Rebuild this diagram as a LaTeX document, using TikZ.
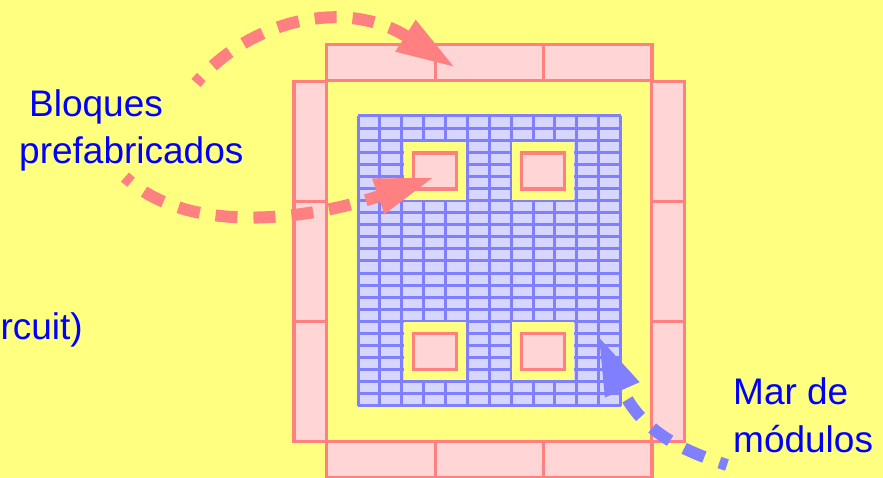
\documentclass[tikz,border=0pt]{standalone}
\usepackage{fontspec}
\setmainfont{Liberation Sans}
\usetikzlibrary{positioning, arrows.meta}
\definecolor{bgyellow}{HTML}{FFFF80}
\definecolor{rosered}{HTML}{FF8080}
\definecolor{rosefill}{HTML}{FFD5D5}
\definecolor{seablue}{HTML}{8080FF}
\definecolor{seafill}{HTML}{D6D6FF}

\begin{document}
\begin{tikzpicture}[
    x=1pt,
    y=-1pt,
    node distance=0pt,
    block/.style={
        rectangle,
        draw=rosered,
        fill=rosefill,
        line width=3.2pt,
        outer sep=0pt,
        inner sep=0pt
    },
    hblock/.style={block, minimum width=108.4pt, minimum height=36pt},
    vblock/.style={block, minimum width=32.6pt, minimum height=119.9pt},
    cell/.style={block, minimum width=43.5pt, minimum height=36pt},
    hole/.style={
        rectangle,
        fill=bgyellow,
        outer sep=0pt,
        inner sep=0pt,
        minimum width=62pt,
        minimum height=58pt
    },
    bluetext/.style={
        text=blue,
        font=\fontsize{37pt}{48pt}\selectfont,
        align=left,
        inner sep=0pt
    },
    redarrow/.style={
        draw=rosered,
        line width=12pt,
        dash pattern=on 22pt off 16pt,
        dash phase=14pt,
        -{Triangle[length=60pt, width=34pt, fill=rosered]}
    },
    bluearrow/.style={
        draw=seablue,
        line width=12pt,
        dash pattern=on 22pt off 16pt,
        dash phase=14pt,
        -{Triangle[length=60pt, width=34pt, fill=seablue]}
    }
]

\useasboundingbox (0,0) rectangle (883,478);
\fill[bgyellow] (0,0) rectangle (883,478);

% Module sea
\fill[seafill] (358,116) rectangle (620.6,406);
\foreach \col in {0,...,12}
    \draw[seablue, line width=3pt] ({358+21.88*\col},116) -- ({358+21.88*\col},406);
\foreach \row in {0,...,24}
    \draw[seablue, line width=3pt] (358,{116+12.08*\row}) -- (620.6,{116+12.08*\row});

% Holes in the sea
\node[hole] (hole1) at (435,171) {};
\node[hole, right=46pt of hole1] (hole2) {};
\node[hole] (hole3) at (435,351.3) {};
\node[hole, right=46pt of hole3] (hole4) {};

% Inner blocks
\node[cell] (cell1) at (hole1) {};
\node[cell] (cell2) at (hole2) {};
\node[cell] (cell3) at (hole3) {};
\node[cell] (cell4) at (hole4) {};

% Top and bottom rows
\node[hblock] (top1) at (381,62.7) {};
\node[hblock, right=of top1] (top2) {};
\node[hblock, right=of top2] (top3) {};
\node[hblock] (bot1) at (381,459.5) {};
\node[hblock, right=of bot1] (bot2) {};
\node[hblock, right=of bot2] (bot3) {};

% Left and right columns
\node[vblock] (left1) at (310.2,141.5) {};
\node[vblock, below=of left1] (left2) {};
\node[vblock, below=of left2] (left3) {};
\node[vblock] (right1) at (668,141.5) {};
\node[vblock, below=of right1] (right2) {};
\node[vblock, below=of right2] (right3) {};

% Labels
\node[bluetext, anchor=base west] (bloques) at (29,117) {Bloques};
\node[bluetext, anchor=base west] (prefab) at (19,164) {prefabricados};
\node[bluetext, anchor=base east] (circuit) at (83,339) {rcuit)};
\node[bluetext, anchor=base west] (mar) at (733,404) {Mar de};
\node[bluetext, anchor=base west] (modulos) at (733,452) {módulos};

% Arrow ends
\coordinate (topstart) at (196,83);
\coordinate (toptip) at (456,68);
\coordinate (cellstart) at (125,177);
\coordinate (celltip) at (435,177);
\coordinate (seastart) at (727,465);
\coordinate (seatip) at (598,335);

% Arrows
\draw[redarrow] (topstart) .. controls (250,20) and (345,-3) .. (toptip);
\draw[redarrow] (cellstart) .. controls (190,238) and (315,218) .. (celltip);
\draw[bluearrow] (seastart) .. controls (680,450) and (640,430) .. (seatip);

\end{tikzpicture}
\end{document}
